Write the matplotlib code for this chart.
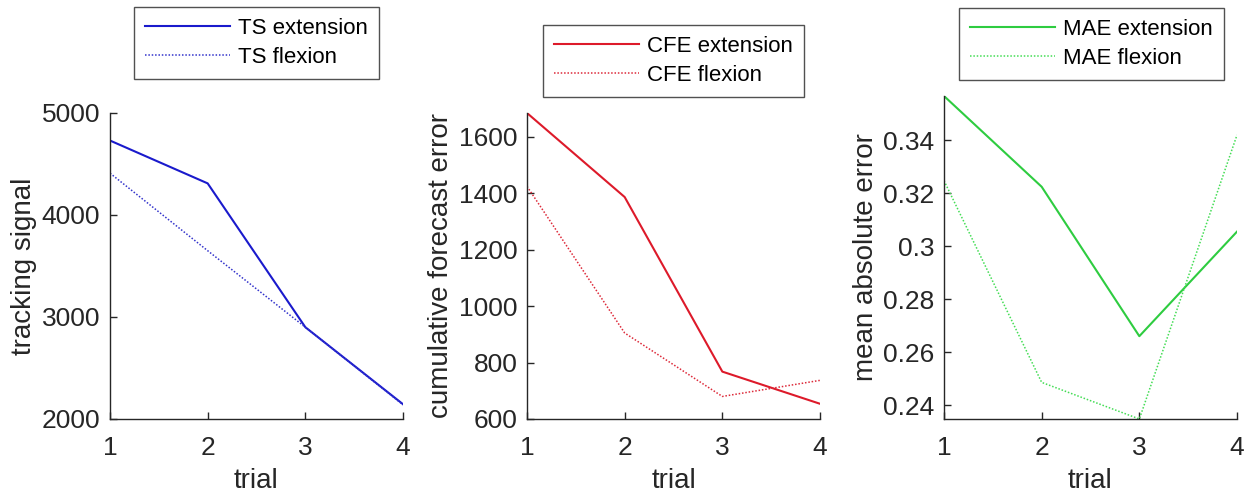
import matplotlib.pyplot as plt
from matplotlib.ticker import FormatStrFormatter

plt.rcParams['font.family'] = ['Liberation Sans', 'DejaVu Sans']

trial = [1, 2, 3, 4]

ts_ext = [4730, 4310, 2900, 2145]
ts_flex = [4410, 3650, 2900, 2140]

cfe_ext = [1685, 1387, 768, 654]
cfe_flex = [1425, 905, 680, 737]

mae_ext = [0.3566, 0.3224, 0.2661, 0.3055]
mae_flex = [0.3247, 0.2487, 0.2349, 0.3419]

W, H = 1254, 497
fig = plt.figure(figsize=(W / 100, H / 100), dpi=100)

gray = '#262626'


def make_axes(l, r, t, b):
    ax = fig.add_axes([l / W, 1 - b / H, (r - l) / W, (b - t) / H])
    for s in ['top', 'right']:
        ax.spines[s].set_visible(False)
    for s in ['left', 'bottom']:
        ax.spines[s].set_color(gray)
        ax.spines[s].set_linewidth(1.0)
    ax.tick_params(direction='in', length=5, width=1, colors=gray,
                   labelsize=19)
    ax.tick_params(axis='x', pad=12)
    ax.tick_params(axis='y', pad=7)
    ax.set_xlim(1, 4)
    ax.set_xticks(trial)
    ax.set_xlabel('trial', fontsize=20, color=gray, labelpad=6)
    return ax


dots = (0, (1, 1.2))

ax1 = make_axes(110, 403, 113, 419)
ax1.plot(trial, ts_ext, '-', color='#1a1acc', lw=1.5, label='TS extension')
ax1.plot(trial, ts_flex, linestyle=dots, color='#3333cc', lw=1.1, label='TS flexion')
ax1.set_ylim(2000, 5000)
ax1.set_yticks([2000, 3000, 4000, 5000])
ax1.set_ylabel('tracking signal', fontsize=20, color=gray, labelpad=3)

ax2 = make_axes(527, 820, 113, 419)
ax2.plot(trial, cfe_ext, '-', color='#dd1a2a', lw=1.5, label='CFE extension')
ax2.plot(trial, cfe_flex, linestyle=dots, color='#dd2a3a', lw=1.1, label='CFE flexion')
ax2.set_ylim(600, 1685)
ax2.set_yticks([600, 800, 1000, 1200, 1400, 1600])
ax2.set_ylabel('cumulative forecast error', fontsize=20, color=gray, labelpad=3)

ax3 = make_axes(944, 1237, 96, 419)
ax3.plot(trial, mae_ext, '-', color='#2ecc40', lw=1.5, label='MAE extension')
ax3.plot(trial, mae_flex, linestyle=dots, color='#44dd55', lw=1.1, label='MAE flexion')
ax3.set_ylim(0.2349, 0.3566)
ax3.set_yticks([0.24, 0.26, 0.28, 0.30, 0.32, 0.34])
ax3.yaxis.set_major_formatter(FormatStrFormatter('%g'))
ax3.set_ylabel('mean absolute error', fontsize=20, color=gray, labelpad=3)

for ax, (x, y) in [(ax1, (134, 7)), (ax2, (543, 25)), (ax3, (959, 8))]:
    leg = ax.legend(loc='upper left', bbox_to_anchor=(x / W, 1 - y / H),
                    bbox_transform=fig.transFigure, fontsize=16,
                    fancybox=False, handlelength=3.8, handletextpad=0.4,
                    borderpad=0.5, labelspacing=0.35, borderaxespad=0)
    leg.get_frame().set_edgecolor(gray)
    leg.get_frame().set_linewidth(1.0)

fig.savefig('out.png', dpi=100)
